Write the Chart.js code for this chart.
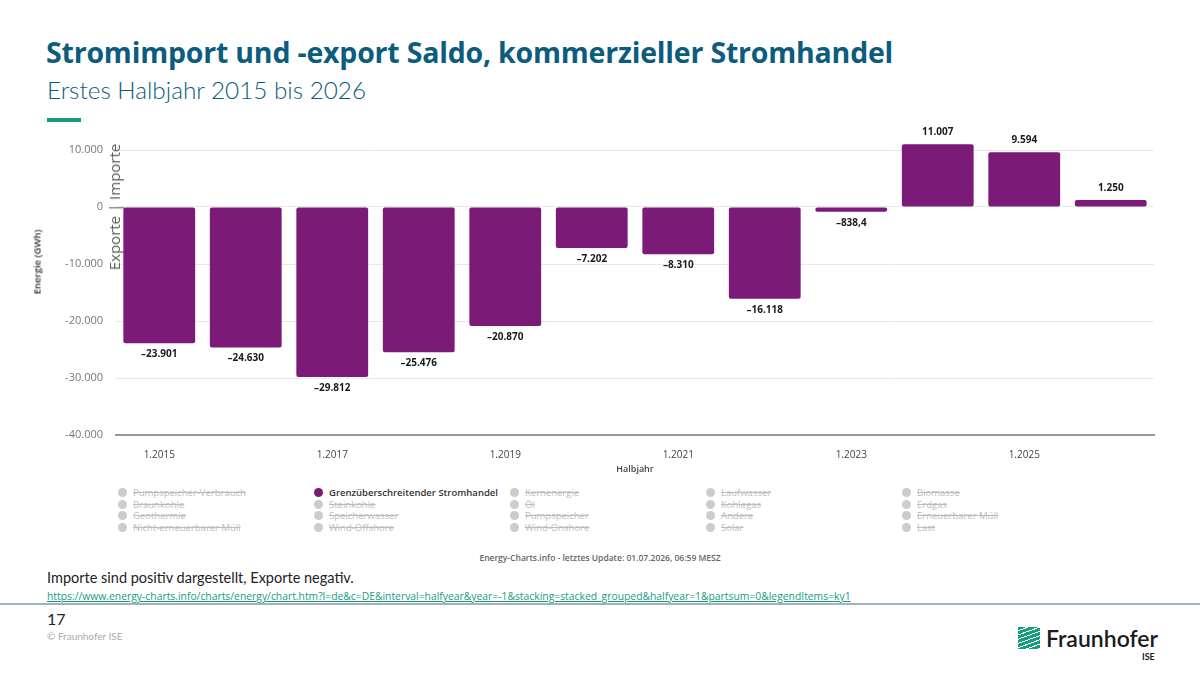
<!DOCTYPE html>
<html>
<head>
<meta charset="utf-8">
<script src="https://cdn.jsdelivr.net/npm/chart.js@4"></script>
<style>
  body { margin: 0; width: 1200px; height: 673px; position: relative; background: #fff; overflow: hidden; font-family: "Open Sans", sans-serif; }
  .abs { position: absolute; white-space: nowrap; }
  #title { left: 46px; top: 35px; font: 700 28.5px/1.2 "Open Sans", sans-serif; color: #0b5c7d; letter-spacing: -0.2px; }
  #subtitle { left: 47px; top: 75px; font: 300 24.3px/1.2 Lato, sans-serif; color: #0b5c7d; }
  #accent { left: 47px; top: 118px; width: 34px; height: 4px; background: #179c7d; }
  #chartBox { left: 30px; top: 125px; width: 1140px; height: 355px; }
  .rot { transform: translate(-50%, -50%) rotate(-90deg); }
  #yTitle { left: 37px; top: 262px; font: 600 9.5px "Open Sans", sans-serif; color: #333; }
  #flow { left: 114px; top: 207px; font: 400 15px "Open Sans", sans-serif; color: #5a5a5a; }
  #legend { left: 118px; top: 487px; display: grid; grid-template-columns: repeat(5, 196px); grid-auto-rows: 11.5px; }
  .item { font: 9.5px/11.5px "Open Sans", sans-serif; color: #bdbdbd; text-decoration: line-through; white-space: nowrap; }
  .item .dot { display: inline-block; width: 9px; height: 9px; border-radius: 50%; background: #cccccc; margin-right: 6px; vertical-align: -1px; }
  .item.on { color: #333; font-weight: 600; text-decoration: none; }
  .item.on .dot { background: #7c1a78; }
  #credits { left: 600px; top: 557px; transform: translate(-50%, -50%); font: 600 8.5px "Open Sans", sans-serif; color: #666; }
  #note { left: 47px; top: 569px; font: 14.5px/1.3 Lato, sans-serif; color: #222; }
  #link { left: 47px; top: 590px; font: 10.35px/1.3 "Open Sans", sans-serif; color: #179c7d; text-decoration: underline; }
  #rule { left: 0; top: 603px; width: 1200px; height: 2px; background: #9bb6bc; }
  #page { left: 47px; top: 609px; font: 16px/1.2 Lato, sans-serif; color: #222; }
  #copy { left: 47px; top: 630px; font: 10px/1.3 Lato, sans-serif; color: #aaa; }
  #logoIcon { left: 1018px; top: 627px; width: 22px; height: 22px;
    background: repeating-linear-gradient(160deg, #179c7d 0 3px, #fff 3px 4px); }
  #logoText { left: 1046px; top: 625px; font: 600 23px/1.2 Lato, sans-serif; color: #1c1c1c; }
  #logoSub { left: 1142px; top: 652px; font: 700 9px/1.2 Lato, sans-serif; color: #1c1c1c; }
</style>
</head>
<body>
<div class="abs" id="title">Stromimport und -export Saldo, kommerzieller Stromhandel</div>
<div class="abs" id="subtitle">Erstes Halbjahr 2015 bis 2026</div>
<div class="abs" id="accent"></div>

<div class="abs" id="chartBox"><canvas id="chart" width="1140" height="355"></canvas></div>
<div class="abs rot" id="yTitle">Energie (GWh)</div>
<div class="abs rot" id="flow">Exporte | Importe</div>

<div class="abs" id="legend"></div>
<div class="abs" id="credits">Energy-Charts.info - letztes Update: 01.07.2026, 06:59 MESZ</div>

<div class="abs" id="note">Importe sind positiv dargestellt, Exporte negativ.</div>
<div class="abs" id="link">https://www.energy-charts.info/charts/energy/chart.htm?l=de&amp;c=DE&amp;interval=halfyear&amp;year=-1&amp;stacking=stacked_grouped&amp;halfyear=1&amp;partsum=0&amp;legendItems=ky1</div>
<div class="abs" id="rule"></div>
<div class="abs" id="page">17</div>
<div class="abs" id="copy">© Fraunhofer ISE</div>
<div class="abs" id="logoIcon"></div>
<div class="abs" id="logoText">Fraunhofer</div>
<div class="abs" id="logoSub">ISE</div>

<script>
// first half-years 2015..2026
const halfYears = ['1.2015', '1.2016', '1.2017', '1.2018', '1.2019', '1.2020',
                   '1.2021', '1.2022', '1.2023', '1.2024', '1.2025', '1.2026'];
// net trade balance in GWh (imports positive, exports negative)
const saldo = [-23901, -24630, -29812, -25476, -20870, -7202,
               -8310, -16118, -838.4, 11007, 9594, 1250];
const xTickLabels = ['1.2015', '1.2017', '1.2019', '1.2021', '1.2023', '1.2025'];
const yTicks = [10000, 0, -10000, -20000, -30000, -40000];

const legendItems = [
    'Pumpspeicher-Verbrauch', 'Grenzüberschreitender Stromhandel', 'Kernenergie', 'Laufwasser', 'Biomasse',
    'Braunkohle', 'Steinkohle', 'Öl', 'Kohlegas', 'Erdgas',
    'Geothermie', 'Speicherwasser', 'Pumpspeicher', 'Andere', 'Erneuerbarer Müll',
    'Nicht-erneuerbarer Müll', 'Wind-Offshore', 'Wind-Onshore', 'Solar', 'Last'
];
const activeItem = 'Grenzüberschreitender Stromhandel';

// legend
const legendEl = document.getElementById('legend');
legendItems.forEach(name => {
    const div = document.createElement('div');
    div.className = 'item' + (name === activeItem ? ' on' : '');
    div.innerHTML = '<span class="dot"></span>' + name;
    legendEl.appendChild(div);
});

function fmt(v) {
    const s = Math.abs(v).toLocaleString('de-DE', { maximumFractionDigits: 1 });
    return (v < 0 ? '–' : '') + s;
}

// value labels above / below the bars
const valueLabels = {
    id: 'valueLabels',
    afterDatasetsDraw(chart) {
        const ctx = chart.ctx;
        const meta = chart.getDatasetMeta(0);
        ctx.save();
        ctx.font = 'bold 10px "Open Sans"';
        ctx.fillStyle = '#1a1a1a';
        ctx.textAlign = 'center';
        ctx.textBaseline = 'middle';
        meta.data.forEach((bar, i) => {
            const v = saldo[i];
            ctx.fillText(fmt(v), bar.x, v >= 0 ? bar.y - 12 : bar.y + 11);
        });
        ctx.restore();
    }
};

const ctx = document.getElementById('chart').getContext('2d');
new Chart(ctx, {
    type: 'bar',
    data: {
        labels: halfYears,
        datasets: [{
            label: activeItem,
            data: saldo,
            backgroundColor: '#7c1a78',
            borderRadius: 2,
            borderSkipped: false,
            barPercentage: 0.83,
            categoryPercentage: 1,
            clip: false
        }]
    },
    options: {
        responsive: false,
        animation: false,
        layout: { padding: { top: 25, right: 16, left: 0, bottom: 0 } },
        plugins: {
            legend: { display: false },
            tooltip: { enabled: false }
        },
        scales: {
            x: {
                afterFit: s => { s.height = 45; },
                grid: { display: false },
                border: { color: '#999', width: 2 },
                ticks: {
                    autoSkip: false,
                    maxRotation: 0,
                    padding: 6,
                    color: '#444',
                    font: { family: 'Open Sans', size: 10 },
                    callback: (v, i) => xTickLabels.includes(halfYears[i]) ? halfYears[i] : ''
                },
                title: {
                    display: true,
                    text: 'Halbjahr',
                    color: '#444',
                    font: { family: 'Open Sans', size: 9, weight: '600' },
                    padding: { top: 0, bottom: 5 }
                }
            },
            y: {
                min: -40000,
                max: 10000,
                afterFit: s => { s.width = 86; },
                afterBuildTicks: s => { s.ticks = yTicks.map(v => ({ value: v })); },
                border: { display: false },
                grid: {
                    drawTicks: false,
                    color: c => c.tick && c.tick.value === -40000 ? 'rgba(0,0,0,0)' : '#e8e8e8'
                },
                ticks: {
                    padding: 13,
                    color: '#777',
                    font: { family: 'Open Sans', size: 11 },
                    callback: v => v.toLocaleString('de-DE')
                }
            }
        }
    },
    plugins: [valueLabels]
});
</script>
</body>
</html>
